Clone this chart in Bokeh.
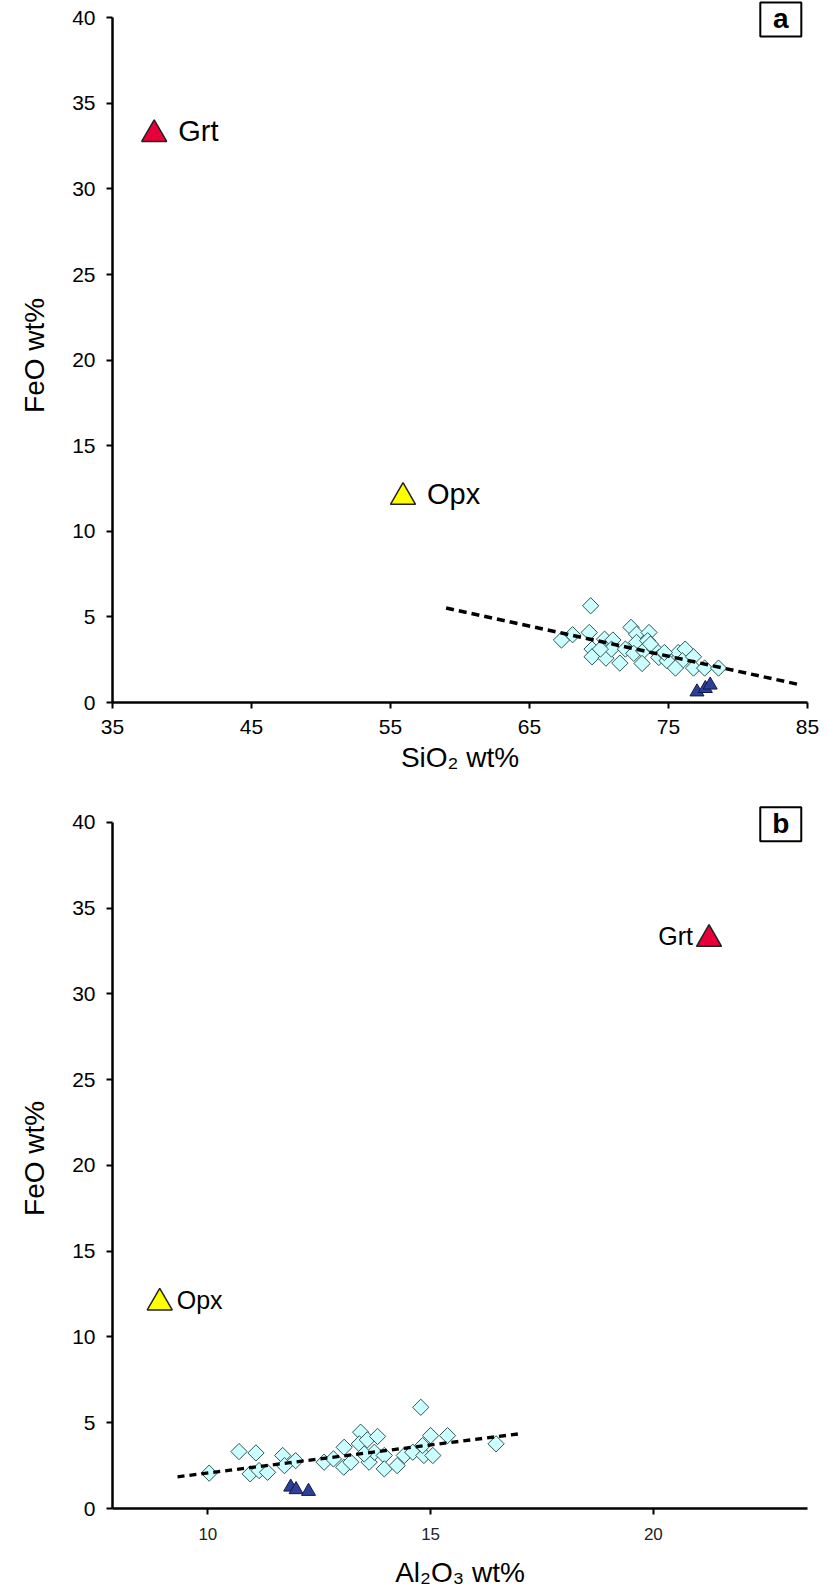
from bokeh.plotting import figure
from bokeh.layouts import column
from bokeh.models import FixedTicker, Range1d
from bokeh.embed import file_html
from bokeh.resources import INLINE
from bokeh.core.properties import value

FONT = "Liberation Sans"

# ---------------- data ----------------
# panel a: SiO2 vs FeO (samples, cyan diamonds)
sio2_a = [69.4, 67.3, 68.1, 69.3, 69.5, 69.5, 70.4, 70.5, 71.0, 70.9, 71.5, 71.9,
          72.3, 72.7, 72.7, 73.6, 73.5, 72.5, 73.2, 73.1, 74.0, 74.3, 74.8, 74.9,
          75.7, 76.2, 76.0, 76.8, 75.5, 76.8, 77.6, 78.6, 73.7, 70.1, 74.7]
feo_a = [5.65, 3.65, 3.96, 4.09, 3.12, 2.67, 3.70, 2.59, 3.65, 3.12, 2.30, 3.12,
         4.39, 3.99, 3.51, 4.09, 3.61, 2.87, 3.02, 2.28, 3.12, 2.63, 2.79, 2.44,
         2.92, 3.12, 2.44, 2.67, 2.01, 2.01, 2.01, 2.01, 3.41, 3.12, 2.92]
# panel a: dark blue triangles
sio2_blue = [77.05, 77.65, 78.0]
feo_blue_a = [0.62, 0.82, 1.02]
# panel a trend line (ends)
trend_a_x = [59.0, 84.5]
trend_a_y = [5.52, 1.03]

# panel b: Al2O3 vs FeO (samples)
al2o3_b = [14.78, 10.70, 11.08, 10.03, 10.95, 11.15, 11.34, 11.68, 11.72, 11.97, 12.61,
           12.82, 13.06, 13.05, 13.21, 13.43, 13.40, 13.58, 13.81, 13.62, 13.74, 13.96,
           13.96, 14.25, 14.41, 14.60, 14.85, 15.00, 14.82, 15.05, 15.38, 16.47, 13.51]
feo_b = [5.90, 3.32, 3.24, 2.06, 2.02, 2.21, 2.11, 3.09, 2.50, 2.79, 2.70,
         2.89, 3.57, 2.41, 2.70, 4.45, 3.77, 4.00, 4.20, 2.70, 3.28, 3.09,
         2.31, 2.50, 3.09, 3.28, 3.09, 4.25, 3.67, 3.09, 4.25, 3.77, 3.18]
al2o3_blue = [11.86, 11.98, 12.26]
feo_blue_b = [1.25, 1.10, 1.00]
trend_b_x = [9.32, 16.98]
trend_b_y = [1.85, 4.35]

# minerals
minerals = ["Grt", "Opx"]
mineral_sio2 = [38.0, 55.9]
mineral_al2o3 = [21.25, 8.92]
mineral_feo = [33.2, 12.0]
mineral_colors = ["#E8003A", "#FFFF00"]

# panel tags
tags = ["a", "b"]
tag_x = [83.08, 22.86]
tag_y = [39.9, 39.9]

y_ticks = [0, 5, 10, 15, 20, 25, 30, 35, 40]
x_ticks_a = [35, 45, 55, 65, 75, 85]
x_ticks_b = [10, 15, 20]


def make_fig(height, x_range, y_top, top, bottom, xticks, xlabel, xtick_size, xl_stand, xt_stand):
    p = figure(width=820, height=height,
               x_range=Range1d(*x_range), y_range=Range1d(0, y_top),
               output_backend="svg", toolbar_location=None,
               min_border_left=112, min_border_right=13,
               min_border_top=top, min_border_bottom=bottom)
    p.outline_line_color = None
    p.grid.visible = False
    p.background_fill_color = "white"
    p.border_fill_color = "white"
    p.xaxis.ticker = FixedTicker(ticks=xticks)
    p.yaxis.ticker = FixedTicker(ticks=y_ticks)
    p.yaxis.bounds = (0, 40)
    for ax in (p.xaxis[0], p.yaxis[0]):
        ax.axis_line_width = 2.5
        ax.axis_line_color = "black"
        ax.major_tick_line_width = 2
        ax.major_tick_line_color = "black"
        ax.major_tick_out = 6
        ax.major_tick_in = 0
        ax.minor_tick_out = 0
        ax.minor_tick_in = 0
        ax.major_label_text_font = FONT
        ax.major_label_text_color = "black"
        ax.axis_label_text_font = FONT
        ax.axis_label_text_font_style = "normal"
        ax.axis_label_text_font_size = "28px"
        ax.axis_label_text_color = "black"
    p.yaxis.major_label_text_font_size = "21px"
    p.yaxis.major_label_standoff = 11
    p.yaxis.axis_label = "FeO  wt%"
    p.yaxis.axis_label_standoff = 19
    p.xaxis.major_label_text_font_size = xtick_size
    p.xaxis.major_label_standoff = xt_stand
    p.xaxis.axis_label = xlabel
    p.xaxis.axis_label_standoff = xl_stand
    return p


def tag_box(p, i):
    p.rect([tag_x[i]], [tag_y[i]], width=41, height=34,
           width_units="screen", height_units="screen",
           fill_color="white", line_color="black", line_width=2)
    p.text([tag_x[i]], [tag_y[i]], text=[tags[i]], text_align="center",
           text_baseline="middle", y_offset=-1,
           text_font=value(FONT), text_font_size="28px",
           text_font_style="bold", text_color="black")


# ---------------- panel a ----------------
pa = make_fig(780, (35, 85), 41.01, 0, 78, x_ticks_a, "SiO\u2082 wt%", "21px", 5, 11)
pa.scatter(sio2_a, feo_a, marker="square", angle=0.785398, size=11.5,
           fill_color="#CCFFFF", line_color="#2F5555", line_width=1)
pa.line(trend_a_x, trend_a_y, line_color="black", line_width=3.5, line_dash="8 5")
pa.scatter(sio2_blue, feo_blue_a, marker="triangle", size=14,
           fill_color="#2E3F9A", line_color="#141840", line_width=1)
pa.scatter(mineral_sio2, mineral_feo, marker="triangle", size=25,
           fill_color=mineral_colors, line_color="#222222", line_width=1.5)
pa.text(mineral_sio2, mineral_feo, text=minerals, x_offset=24, y_offset=-3,
        text_baseline="middle", text_align="left",
        text_font=value(FONT), text_font_size="29px", text_color="black")
tag_box(pa, 0)

# ---------------- panel b ----------------
pb = make_fig(812, (7.86, 23.46), 41.28, 20, 84, x_ticks_b, "Al\u2082O\u2083 wt%", "17px", 14, 13)
pb.xaxis.major_label_text_color = "#222222"
pb.scatter(al2o3_b, feo_b, marker="square", angle=0.785398, size=11.5,
           fill_color="#CCFFFF", line_color="#2F5555", line_width=1)
pb.line(trend_b_x, trend_b_y, line_color="black", line_width=3.3, line_dash="7 5")
pb.scatter(al2o3_blue, feo_blue_b, marker="triangle", size=14,
           fill_color="#2E3F9A", line_color="#141840", line_width=1)
pb.scatter(mineral_al2o3, mineral_feo, marker="triangle", size=25,
           fill_color=mineral_colors, line_color="#222222", line_width=1.5)
pb.text([mineral_al2o3[0]], [mineral_feo[0]], text=[minerals[0]], x_offset=-16, y_offset=-3,
        text_baseline="middle", text_align="right",
        text_font=value(FONT), text_font_size="25px", text_color="black")
pb.text([mineral_al2o3[1]], [mineral_feo[1]], text=[minerals[1]], x_offset=17, y_offset=-3,
        text_baseline="middle", text_align="left",
        text_font=value(FONT), text_font_size="25px", text_color="black")
tag_box(pb, 1)

layout = column(pa, pb)
open("out.html", "w").write(file_html(layout, INLINE))
